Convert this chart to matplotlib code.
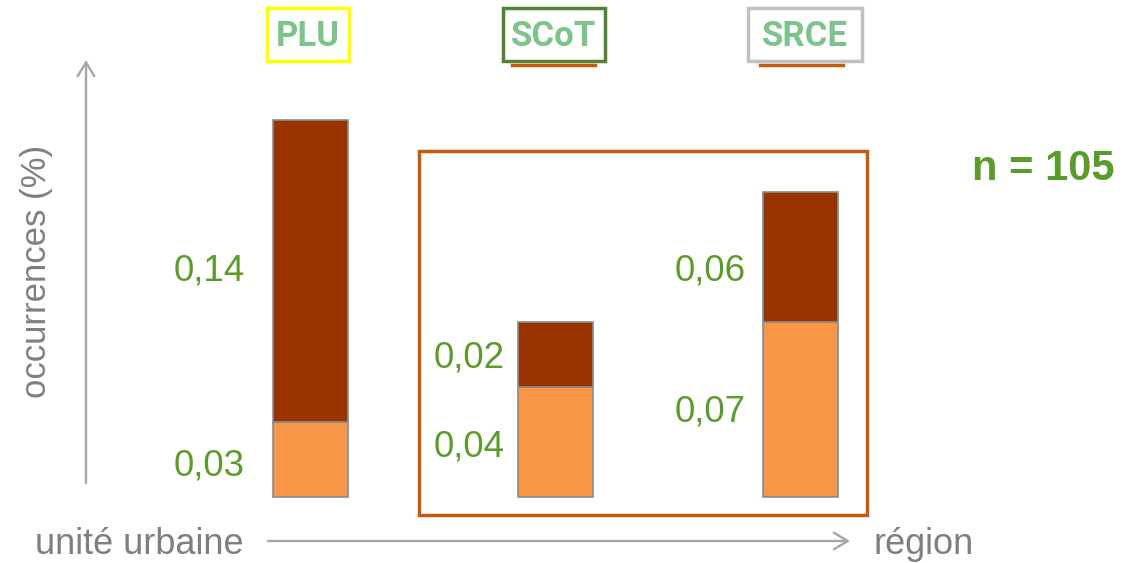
import matplotlib
matplotlib.use('Agg')
import matplotlib.pyplot as plt
import matplotlib.patches as mpatches
from matplotlib.lines import Line2D

# donnees
docs = ['PLU', 'SCoT', 'SRCE']
bas = [0.030, 0.044, 0.070]      # part claire
haut = [0.121, 0.026, 0.052]     # part foncee
lab_bas = ['0,03', '0,04', '0,07']
lab_haut = ['0,14', '0,02', '0,06']
n_total = 105

W, H = 1143, 563
fx = lambda x: x / W
fy = lambda y: 1 - y / H

gris = '#a6a6a6'
gris_txt = '#7f7f7f'
vert = '#5b9b2a'
vert_clair = '#7dc48b'
orange = '#c55a11'
fonce = '#993300'
clair = '#f79646'

plt.rcParams['font.family'] = ['Liberation Sans', 'DejaVu Sans']

fig = plt.figure(figsize=(W / 100, H / 100), dpi=100)
ax = fig.add_axes([0, 0, 1, 1])
ax.axis('off')

# echelle : 245 px par categorie, 2500 px par unite
xs = [0, 1, 2]
ax.set_xlim(-310.5 / 245, (W - 310.5) / 245)
ax.set_ylim(-66 / 2500, (H - 66) / 2500)
larg = 75 / 245

ax.bar(xs, bas, width=larg, color=clair, edgecolor='#8c8c8c', linewidth=1.2)
ax.bar(xs, haut, bottom=bas, width=larg, color=fonce, edgecolor='#8c8c8c', linewidth=1.2)

# etiquettes des valeurs
decal = [28, 13, 17]
dy_bas = [7, 5, 3]
dy_haut = [0, 4, 14]
for i in range(3):
    ax.annotate(lab_bas[i], (xs[i] - larg / 2, bas[i] / 2), xytext=(-decal[i] * 0.72, -dy_bas[i] * 0.72),
                textcoords='offset points', ha='right', va='center', fontsize=26.5, color=vert)
    ax.annotate(lab_haut[i], (xs[i] - larg / 2, bas[i] + haut[i] / 2),
                xytext=(-decal[i] * 0.72, -dy_haut[i] * 0.72),
                textcoords='offset points', ha='right', va='center', fontsize=26.5, color=vert)

# titres encadres
cadres = [(267, 349, '#ffff00'), (503, 605, '#548235'), (748, 862, '#c0c0c0')]
for nom, (x0, x1, c) in zip(docs, cadres):
    fig.add_artist(mpatches.Rectangle((fx(x0), fy(61)), fx(x1) - fx(x0), fy(8) - fy(61),
                                      transform=fig.transFigure, fill=False, edgecolor=c, linewidth=2.5))
    fig.text(fx((x0 + x1) / 2), fy(37), nom, ha='center', va='center', fontsize=25,
             fontweight='bold', color=vert_clair, family=['Roboto', 'DejaVu Sans'])

for x0, x1 in [(512, 595), (760, 843)]:
    fig.add_artist(Line2D([fx(x0), fx(x1)], [fy(65), fy(65)], transform=fig.transFigure,
                          color=orange, linewidth=2.5))

# cadre autour de SCoT et SRCE
fig.add_artist(mpatches.Rectangle((fx(419), fy(515)), fx(867) - fx(419), fy(151) - fy(515),
                                  transform=fig.transFigure, fill=False, edgecolor=orange, linewidth=2.5))

# fleches
fleche = dict(arrowstyle='->,head_length=1.0,head_width=0.6', color=gris, lw=1.7,
              shrinkA=0, shrinkB=0)
fig.add_artist(plt.Annotation('', xy=(fx(86), fy(60)), xytext=(fx(86), fy(483)),
                              xycoords='figure fraction', arrowprops=fleche))
fig.add_artist(plt.Annotation('', xy=(fx(850), fy(541)), xytext=(fx(268), fy(541)),
                              xycoords='figure fraction', arrowprops=fleche))

fig.text(fx(37), fy(271), 'occurrences (%)', rotation=90, ha='center', va='center',
         fontsize=25, color=gris_txt)
fig.text(fx(35), fy(544), 'unité urbaine', ha='left', va='center', fontsize=26, color=gris_txt)
fig.text(fx(873), fy(544), 'région', ha='left', va='center', fontsize=26, color=gris_txt)
fig.text(fx(1115), fy(169), 'n = %d' % n_total, ha='right', va='center', fontsize=30,
         fontweight='bold', color=vert)

fig.savefig('out.png', dpi=100)
